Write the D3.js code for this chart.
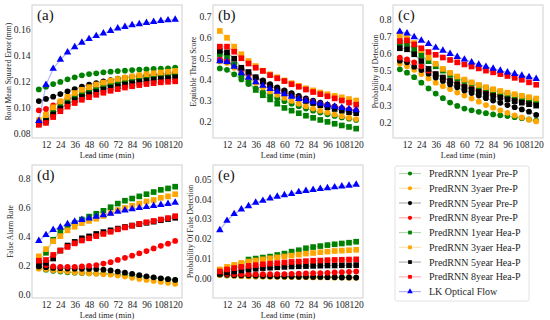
<!DOCTYPE html>
<html>
<head>
<meta charset="utf-8">
<script src="https://cdn.jsdelivr.net/npm/d3@7"></script>
<style>
  body { margin: 0; background: #fff; }
  svg { display: block; font-family: "Liberation Serif", "Times New Roman", serif; }
</style>
</head>
<body>
<svg id="chart" width="550" height="320"></svg>
<script>
// lead times, every 6 minutes
var leadTimes = [6, 12, 18, 24, 30, 36, 42, 48, 54, 60, 66, 72, 78, 84, 90, 96, 102, 108, 114, 120];
var xTicks = [12, 24, 36, 48, 60, 72, 84, 96, 108, 120];

var seriesNames = ["PredRNN 1year Pre-P", "PredRNN 3yaer Pre-P", "PredRNN 5year Pre-P", "PredRNN 8year Pre-P",
  "PredRNN 1year Hea-P", "PredRNN 3yaer Hea-P", "PredRNN 5year Hea-P", "PredRNN 8year Hea-P", "LK Optical Flow"];

// values, one row per series (same order as seriesNames)
var rmseValues = [
  [0.1138, 0.1159, 0.1179, 0.1195, 0.1215, 0.1231, 0.1246, 0.1256, 0.1262, 0.1269, 0.1274, 0.1279, 0.1282, 0.1287, 0.129, 0.1292, 0.1295, 0.1297, 0.13, 0.1306],
  [0.0905, 0.095, 0.1005, 0.1048, 0.1082, 0.111, 0.1133, 0.1152, 0.1168, 0.1183, 0.1196, 0.1208, 0.1218, 0.1227, 0.1236, 0.1243, 0.125, 0.1256, 0.1262, 0.1268],
  [0.1048, 0.1064, 0.1082, 0.1102, 0.1123, 0.114, 0.1159, 0.1174, 0.1187, 0.12, 0.121, 0.122, 0.1228, 0.1236, 0.1241, 0.1246, 0.1251, 0.1256, 0.1262, 0.1267],
  [0.0977, 0.0988, 0.1015, 0.104, 0.1065, 0.1088, 0.111, 0.113, 0.1148, 0.1163, 0.1177, 0.119, 0.12, 0.121, 0.122, 0.1228, 0.1235, 0.1242, 0.1248, 0.1253],
  [0.0885, 0.091, 0.097, 0.1015, 0.105, 0.108, 0.1105, 0.1125, 0.1143, 0.116, 0.1175, 0.1188, 0.12, 0.121, 0.122, 0.1228, 0.1236, 0.1243, 0.125, 0.1257],
  [0.0895, 0.094, 0.1, 0.1045, 0.108, 0.111, 0.1135, 0.1155, 0.1175, 0.119, 0.1205, 0.1218, 0.1228, 0.1238, 0.1247, 0.1255, 0.1262, 0.1268, 0.1274, 0.128],
  [0.0875, 0.0895, 0.0945, 0.099, 0.1025, 0.1055, 0.108, 0.11, 0.1118, 0.1135, 0.115, 0.1162, 0.1174, 0.1185, 0.1195, 0.1203, 0.1211, 0.1218, 0.1224, 0.123],
  [0.0865, 0.088, 0.0925, 0.097, 0.1005, 0.1033, 0.1058, 0.1078, 0.1096, 0.1112, 0.1127, 0.114, 0.1152, 0.1162, 0.1171, 0.1179, 0.1186, 0.1192, 0.1196, 0.12],
  [0.0895, 0.1173, 0.1297, 0.1367, 0.1423, 0.1463, 0.1498, 0.1526, 0.1549, 0.1569, 0.1589, 0.1607, 0.1619, 0.1632, 0.164, 0.165, 0.1657, 0.1665, 0.167, 0.1675]
];

var etsValues = [
  [0.452, 0.445, 0.424, 0.4, 0.378, 0.358, 0.34, 0.325, 0.31, 0.297, 0.285, 0.273, 0.262, 0.252, 0.243, 0.235, 0.227, 0.22, 0.214, 0.208],
  [0.485, 0.478, 0.455, 0.43, 0.405, 0.383, 0.362, 0.343, 0.327, 0.312, 0.298, 0.285, 0.273, 0.262, 0.252, 0.243, 0.234, 0.226, 0.219, 0.212],
  [0.49, 0.485, 0.47, 0.45, 0.43, 0.41, 0.395, 0.378, 0.362, 0.348, 0.335, 0.322, 0.31, 0.3, 0.29, 0.28, 0.272, 0.264, 0.257, 0.25],
  [0.497, 0.492, 0.47, 0.447, 0.425, 0.405, 0.385, 0.368, 0.352, 0.338, 0.325, 0.313, 0.302, 0.293, 0.284, 0.276, 0.269, 0.263, 0.258, 0.253],
  [0.52, 0.51, 0.47, 0.42, 0.385, 0.35, 0.325, 0.305, 0.285, 0.265, 0.252, 0.24, 0.228, 0.218, 0.208, 0.199, 0.19, 0.182, 0.175, 0.167],
  [0.629, 0.597, 0.555, 0.519, 0.487, 0.463, 0.441, 0.424, 0.41, 0.395, 0.382, 0.37, 0.358, 0.348, 0.338, 0.33, 0.322, 0.315, 0.307, 0.3],
  [0.535, 0.528, 0.498, 0.455, 0.435, 0.41, 0.39, 0.37, 0.355, 0.34, 0.325, 0.31, 0.298, 0.288, 0.278, 0.268, 0.26, 0.252, 0.245, 0.24],
  [0.555, 0.555, 0.531, 0.5, 0.475, 0.455, 0.44, 0.42, 0.405, 0.392, 0.377, 0.365, 0.352, 0.34, 0.33, 0.32, 0.31, 0.3, 0.29, 0.28],
  [0.487, 0.483, 0.46, 0.43, 0.408, 0.387, 0.37, 0.355, 0.342, 0.33, 0.318, 0.308, 0.3, 0.292, 0.285, 0.278, 0.271, 0.265, 0.26, 0.255]
];

var podValues = [
  [0.508, 0.488, 0.462, 0.43, 0.397, 0.367, 0.34, 0.315, 0.295, 0.28, 0.27, 0.261, 0.253, 0.246, 0.241, 0.236, 0.23, 0.224, 0.217, 0.21],
  [0.542, 0.525, 0.505, 0.48, 0.455, 0.43, 0.41, 0.392, 0.373, 0.355, 0.338, 0.32, 0.3, 0.285, 0.27, 0.255, 0.24, 0.228, 0.215, 0.205],
  [0.558, 0.548, 0.523, 0.503, 0.482, 0.46, 0.44, 0.42, 0.403, 0.385, 0.37, 0.355, 0.34, 0.326, 0.313, 0.3, 0.288, 0.275, 0.262, 0.243],
  [0.575, 0.565, 0.548, 0.525, 0.5, 0.48, 0.46, 0.442, 0.426, 0.412, 0.399, 0.387, 0.376, 0.365, 0.355, 0.345, 0.335, 0.326, 0.318, 0.31],
  [0.66, 0.655, 0.625, 0.59, 0.555, 0.525, 0.5, 0.475, 0.455, 0.44, 0.425, 0.41, 0.398, 0.385, 0.373, 0.362, 0.353, 0.344, 0.335, 0.326],
  [0.703, 0.69, 0.66, 0.62, 0.575, 0.54, 0.51, 0.487, 0.466, 0.448, 0.432, 0.417, 0.404, 0.392, 0.382, 0.372, 0.363, 0.354, 0.346, 0.338],
  [0.63, 0.624, 0.595, 0.556, 0.51, 0.48, 0.46, 0.44, 0.42, 0.405, 0.39, 0.376, 0.364, 0.353, 0.343, 0.333, 0.323, 0.314, 0.305, 0.297],
  [0.672, 0.675, 0.652, 0.63, 0.608, 0.592, 0.576, 0.562, 0.548, 0.536, 0.524, 0.513, 0.5, 0.49, 0.48, 0.469, 0.458, 0.447, 0.432, 0.418],
  [0.726, 0.717, 0.695, 0.674, 0.655, 0.633, 0.616, 0.598, 0.58, 0.565, 0.548, 0.535, 0.523, 0.512, 0.5, 0.49, 0.481, 0.471, 0.463, 0.453]
];

var farValues = [
  [0.18, 0.168, 0.16, 0.155, 0.15, 0.147, 0.145, 0.143, 0.142, 0.14, 0.138, 0.135, 0.13, 0.125, 0.12, 0.115, 0.11, 0.105, 0.1, 0.095],
  [0.175, 0.172, 0.165, 0.16, 0.155, 0.15, 0.147, 0.143, 0.14, 0.137, 0.133, 0.127, 0.12, 0.112, 0.104, 0.097, 0.09, 0.083, 0.077, 0.07],
  [0.19, 0.185, 0.18, 0.178, 0.176, 0.175, 0.174, 0.173, 0.172, 0.168, 0.163, 0.155, 0.147, 0.139, 0.13, 0.122, 0.115, 0.108, 0.102, 0.097],
  [0.215, 0.2, 0.19, 0.188, 0.188, 0.188, 0.19, 0.195, 0.2, 0.21, 0.22, 0.235, 0.25, 0.265, 0.28, 0.297, 0.315, 0.333, 0.348, 0.367],
  [0.225, 0.285, 0.375, 0.43, 0.465, 0.49, 0.515, 0.535, 0.555, 0.575, 0.6, 0.625, 0.645, 0.66, 0.675, 0.69, 0.705, 0.72, 0.73, 0.742],
  [0.26, 0.31, 0.365, 0.4, 0.44, 0.465, 0.49, 0.505, 0.52, 0.54, 0.56, 0.58, 0.595, 0.61, 0.625, 0.64, 0.65, 0.665, 0.675, 0.69],
  [0.2, 0.215, 0.245, 0.3, 0.335, 0.36, 0.385, 0.398, 0.415, 0.428, 0.44, 0.452, 0.463, 0.473, 0.483, 0.492, 0.5, 0.51, 0.518, 0.527],
  [0.23, 0.235, 0.27, 0.3, 0.325, 0.35, 0.37, 0.385, 0.4, 0.415, 0.43, 0.447, 0.46, 0.472, 0.485, 0.496, 0.505, 0.515, 0.525, 0.538],
  [0.367, 0.408, 0.443, 0.461, 0.484, 0.5, 0.513, 0.523, 0.535, 0.546, 0.556, 0.569, 0.578, 0.587, 0.595, 0.602, 0.609, 0.616, 0.623, 0.632]
];

var pofdValues = [
  [0.0018, 0.0015, 0.0013, 0.0012, 0.0011, 0.001, 0.001, 0.0009, 0.0009, 0.0008, 0.0008, 0.0007, 0.0007, 0.0006, 0.0006, 0.0006, 0.0005, 0.0005, 0.0005, 0.0004],
  [0.0017, 0.0015, 0.0013, 0.0011, 0.001, 0.0009, 0.0009, 0.0008, 0.0008, 0.0007, 0.0007, 0.0006, 0.0006, 0.0005, 0.0005, 0.0005, 0.0004, 0.0004, 0.0003, 0.0003],
  [0.002, 0.0018, 0.0016, 0.0015, 0.0014, 0.0013, 0.0012, 0.0011, 0.001, 0.001, 0.0009, 0.0008, 0.0008, 0.0007, 0.0007, 0.0006, 0.0006, 0.0005, 0.0005, 0.0004],
  [0.0025, 0.0023, 0.0022, 0.0021, 0.0021, 0.0021, 0.0021, 0.0021, 0.0022, 0.0022, 0.0023, 0.0024, 0.0025, 0.0026, 0.0027, 0.0028, 0.003, 0.0031, 0.0033, 0.0035],
  [0.0025, 0.004, 0.0055, 0.007, 0.0095, 0.01, 0.0105, 0.011, 0.0118, 0.0125, 0.0135, 0.0142, 0.0152, 0.0158, 0.0163, 0.0168, 0.0172, 0.0176, 0.018, 0.0185],
  [0.0045, 0.0058, 0.0068, 0.0078, 0.0085, 0.009, 0.0096, 0.0101, 0.0106, 0.011, 0.0115, 0.012, 0.0125, 0.0128, 0.0132, 0.0135, 0.0138, 0.014, 0.0142, 0.0144],
  [0.0025, 0.003, 0.0035, 0.004, 0.0045, 0.0049, 0.0052, 0.0054, 0.0056, 0.0058, 0.006, 0.0061, 0.0062, 0.0063, 0.0064, 0.0065, 0.0065, 0.0066, 0.0066, 0.0067],
  [0.0035, 0.0045, 0.0052, 0.0058, 0.0063, 0.0067, 0.0071, 0.0074, 0.0077, 0.008, 0.0083, 0.0085, 0.0087, 0.0089, 0.009, 0.0092, 0.0093, 0.0094, 0.0095, 0.0096],
  [0.0244, 0.0291, 0.0325, 0.0348, 0.0365, 0.0382, 0.0392, 0.0404, 0.0413, 0.042, 0.0427, 0.0436, 0.0442, 0.0447, 0.0452, 0.0456, 0.046, 0.0464, 0.0468, 0.0473]
];

var panelLetters = ["(a)", "(b)", "(c)", "(d)", "(e)"];
var yLabels = ["Root Mean Squared Error (mm)", "Equitable Threat Score", "Probability of Detection",
  "False Alarm Rate", "Probability Of False Detection"];
var yTicksA = [0.08, 0.10, 0.12, 0.14, 0.16];
var yTicksB = [0.2, 0.3, 0.4, 0.5, 0.6, 0.7];
var yTicksC = [0.2, 0.3, 0.4, 0.5, 0.6, 0.7, 0.8];
var yTicksD = [0.0, 0.2, 0.4, 0.6, 0.8];
var yTicksE = [0.00, 0.01, 0.02, 0.03, 0.04, 0.05];

// styling per series
var colors = ["green", "orange", "black", "red", "green", "orange", "black", "red", "blue"];
var shapes = ["circle", "circle", "circle", "circle", "square", "square", "square", "square", "triangle"];

var svg = d3.select("#chart");

// yl = baseline x of the rotated y label, relative to the panel
var panels = [
  { values: rmseValues, ticks: yTicksA, fmt: ".2f", dom: [0.0764, 0.1787], left: 32, top: 5, yl: -21.5 },
  { values: etsValues, ticks: yTicksB, fmt: ".1f", dom: [0.1226, 0.752], left: 213, top: 5, yl: -17.5 },
  { values: podValues, ticks: yTicksC, fmt: ".1f", dom: [0.109, 0.881], left: 393, top: 5, yl: -15.5 },
  { values: farValues, ticks: yTicksD, fmt: ".1f", dom: [-0.028, 0.892], left: 32, top: 165, yl: -19.5 },
  { values: pofdValues, ticks: yTicksE, fmt: ".2f", dom: [-0.0099, 0.0572], left: 213, top: 165, yl: -20 }
];
var pw = 150, ph = 133;

function symbolOf(shape) {
  if (shape === "circle") return d3.symbolCircle;
  if (shape === "square") return d3.symbolSquare;
  return d3.symbolTriangle;
}
var markSize = { circle: 26, square: 32, triangle: 24 };

panels.forEach(function (p, pi) {
  var g = svg.append("g").attr("transform", "translate(" + p.left + "," + p.top + ")");
  var x = d3.scaleLinear().domain([0.3, 125.7]).range([0, pw]);
  var y = d3.scaleLinear().domain(p.dom).range([ph, 0]);

  var xAxis = g.append("g").attr("transform", "translate(0," + ph + ")")
    .call(d3.axisBottom(x).tickValues(xTicks).tickSize(0).tickPadding(3.5));
  var yAxis = g.append("g")
    .call(d3.axisLeft(y).tickValues(p.ticks).tickFormat(d3.format(p.fmt)).tickSize(0).tickPadding(1.5));
  [xAxis, yAxis].forEach(function (ax) {
    ax.select(".domain").remove();
    ax.selectAll("line").remove();
    ax.selectAll("text").attr("fill", "#262626").style("font-size", "9.6px")
      .style("font-family", "'Liberation Serif', serif");
  });

  g.append("rect").attr("width", pw).attr("height", ph)
    .attr("fill", "none").attr("stroke", "#cfcfcf").attr("stroke-width", 1);

  var line = d3.line().x(function (d, i) { return x(leadTimes[i]); }).y(function (d) { return y(d); });

  p.values.forEach(function (vals, si) {
    g.append("path").datum(vals).attr("d", line)
      .attr("fill", "none").attr("stroke", colors[si]).attr("stroke-opacity", 0.3).attr("stroke-width", 1.2);
    g.selectAll(null).data(vals).enter().append("path")
      .attr("d", d3.symbol().type(symbolOf(shapes[si])).size(markSize[shapes[si]])())
      .attr("transform", function (d, i) { return "translate(" + x(leadTimes[i]) + "," + y(d) + ")"; })
      .attr("fill", colors[si]);
  });

  g.append("text").attr("x", 5).attr("y", 15).text(panelLetters[pi])
    .style("font-size", "15px").attr("fill", "#111");

  g.append("text").attr("x", pw / 2).attr("y", ph + 20.3).attr("text-anchor", "middle")
    .style("font-size", "8.4px").attr("fill", "#262626").text("Lead time (min)");

  g.append("text").attr("transform", "translate(" + p.yl + "," + (ph / 2) + ") rotate(-90)")
    .attr("text-anchor", "middle").style("font-size", "7.6px").attr("fill", "#262626").text(yLabels[pi]);
});

// legend
var lg = svg.append("g").attr("transform", "translate(395,166)");
lg.append("rect").attr("width", 134).attr("height", 135).attr("rx", 2)
  .attr("fill", "#fff").attr("stroke", "#e2e2e2");
seriesNames.forEach(function (name, i) {
  var yy = 7.5 + i * 14.76;
  lg.append("line").attr("x1", 4).attr("x2", 26).attr("y1", yy).attr("y2", yy)
    .attr("stroke", colors[i]).attr("stroke-opacity", 0.3).attr("stroke-width", 1.2);
  lg.append("path").attr("d", d3.symbol().type(symbolOf(shapes[i])).size(14)())
    .attr("transform", "translate(15," + yy + ")").attr("fill", colors[i]);
  lg.append("text").attr("x", 34).attr("y", yy + 3.6).text(name)
    .style("font-size", "10px").attr("fill", "#262626");
});
</script>
</body>
</html>
